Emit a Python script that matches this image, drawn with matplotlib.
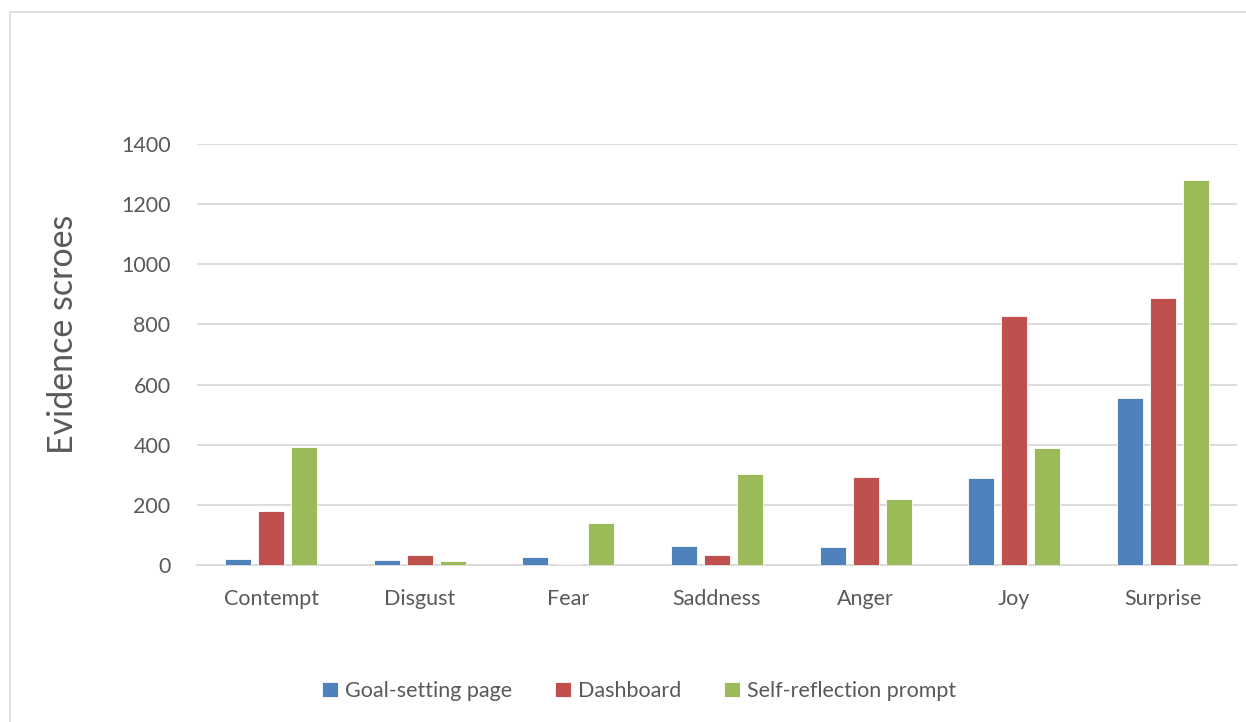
import matplotlib
matplotlib.use("Agg")
import matplotlib.pyplot as plt
from matplotlib.patches import Rectangle
import numpy as np

categories = ["Contempt", "Disgust", "Fear", "Saddness", "Anger", "Joy", "Surprise"]
goal_setting = [20, 17, 27, 64, 60, 289, 555]
dashboard = [180, 33, 2, 33, 292, 827, 887]
self_reflection = [392, 12, 140, 302, 219, 390, 1280]
series_names = ["Goal-setting page", "Dashboard", "Self-reflection prompt"]
colors = ["#4F81BD", "#C0504D", "#9BBB59"]
y_ticks = [0, 200, 400, 600, 800, 1000, 1200, 1400]

plt.rcParams["font.family"] = ["Lato", "DejaVu Sans"]

W, H = 1246, 722
fig = plt.figure(figsize=(W / 100, H / 100), dpi=100)

# outer chart frame
fig.patches.append(Rectangle((10 / W, -0.1), 1.2, (H - 12) / H + 0.1,
                             transform=fig.transFigure, fill=False,
                             edgecolor="#D9D9D9", linewidth=1.2))

ax = fig.add_axes([197 / W, 157 / H, 1040 / W, 421 / H])

x = np.arange(len(categories))
bw = 0.175
step = 33 / 148.6
for i, (vals, name, c) in enumerate(zip([goal_setting, dashboard, self_reflection], series_names, colors)):
    ax.bar(x + (i - 1) * step, vals, width=bw, color=c, edgecolor="white",
           linewidth=0.6, label=name, zorder=3)

ax.set_xlim(-0.5, len(categories) - 0.5)
ax.set_ylim(0, 1400)
ax.set_yticks(y_ticks)
ax.set_yticklabels([str(v) for v in y_ticks])
ax.set_xticks(x)
ax.set_xticklabels(categories)
ax.tick_params(axis="both", length=0, labelsize=15.5, labelcolor="#595959")
ax.tick_params(axis="y", pad=19)
ax.tick_params(axis="x", pad=17)
ax.grid(axis="y", color="#D9D9D9", linewidth=1.3, zorder=0)
for s in ["top", "right", "left"]:
    ax.spines[s].set_visible(False)
ax.spines["bottom"].set_color("#D9D9D9")
ax.spines["bottom"].set_linewidth(1.3)

fig.text(63 / W, 1 - 334 / H, "Evidence scroes", rotation=90, fontsize=24.5,
         color="#595959", ha="center", va="center")

handles, labels = ax.get_legend_handles_labels()
fig.legend(handles, labels, loc="center", bbox_to_anchor=(639 / W, 1 - 691 / H),
           ncol=3, frameon=False, fontsize=15.5, labelcolor="#595959",
           handlelength=0.75, handleheight=0.75, handletextpad=0.3, columnspacing=2.0)

fig.savefig("out.png", dpi=100, facecolor="white")
